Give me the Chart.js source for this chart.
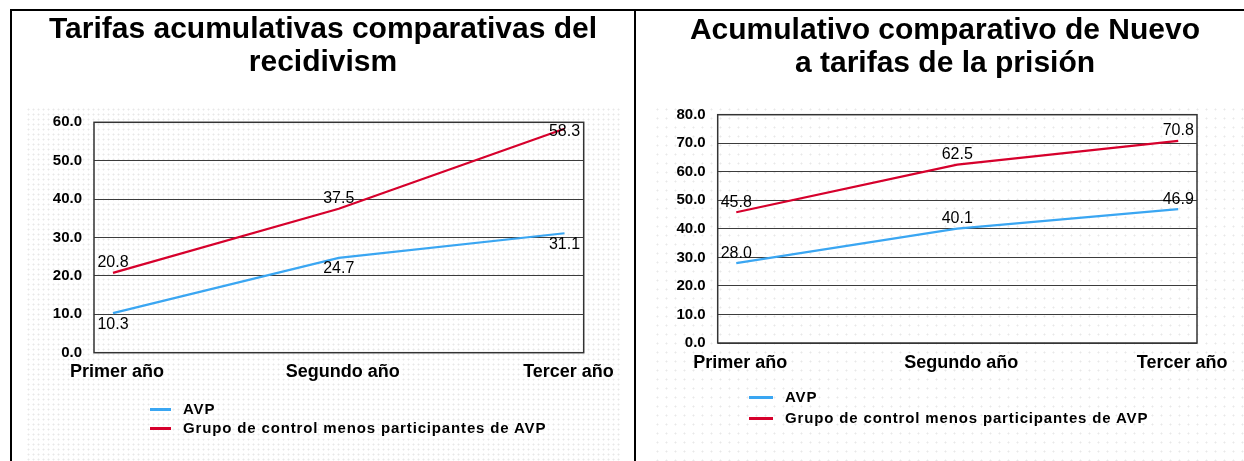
<!DOCTYPE html>
<html>
<head>
<meta charset="utf-8">
<script src="https://cdn.jsdelivr.net/npm/chart.js@4.4.1/dist/chart.umd.min.js"></script>
<style>
  body { margin: 0; width: 1244px; height: 461px; overflow: hidden; background: #fff; position: relative;
         font-family: "Liberation Sans", Arial, sans-serif; }
  .rule { position: absolute; background: #000; }
  .dots { position: absolute; background-image: radial-gradient(circle, #e8e8e8 0.9px, transparent 1.1px); }
  canvas { position: absolute; }
  .legend { position: absolute; font-weight: bold; font-size: 15px; letter-spacing: 0.85px; color: #000; }
  .legend .row { position: absolute; left: 0; height: 18px; line-height: 18px; white-space: nowrap; }
  .legend .swatch { position: absolute; top: 8px; left: 0; height: 3px; }
  .legend .txt { position: absolute; top: 0; }
</style>
</head>
<body>
<div class="dots" style="left:26px;top:107px;width:594px;height:354px;background-size:5px 5px"></div>
<div class="dots" style="left:653px;top:105px;width:591px;height:356px;background-size:9px 9px"></div>

<div class="rule" style="left:10px;top:9px;width:1234px;height:2px"></div>
<div class="rule" style="left:10px;top:9px;width:2px;height:452px"></div>
<div class="rule" style="left:634px;top:9px;width:2px;height:452px"></div>

<canvas id="recid" style="left:12px;top:12px" width="622" height="449"></canvas>
<canvas id="prison" style="left:637px;top:12px" width="607" height="449"></canvas>

<div class="legend" id="legendRecid" style="left:150px;top:400px"></div>
<div class="legend" id="legendPrison" style="left:749px;top:388px"></div>

<script>
// categories and series
const years = ['Primer año', 'Segundo año', 'Tercer año'];
const seriesNames = ['AVP', 'Grupo de control menos participantes de AVP'];

// recidivism chart
const recidTitle = ['Tarifas acumulativas comparativas del', 'recidivism'];
const recidAVP = [10.3, 24.7, 31.1];
const recidControl = [20.8, 37.5, 58.3];
const recidMax = 60;

// prison chart
const prisonTitle = ['Acumulativo comparativo de Nuevo', 'a tarifas de la prisión'];
const prisonAVP = [28.0, 40.1, 46.9];
const prisonControl = [45.8, 62.5, 70.8];
const prisonMax = 80;

const BLUE = '#3aa6f2';
const RED = '#d6002c';
const FONT = '"Liberation Sans", Arial, sans-serif';

const toPoints = vals => vals.map((v, i) => ({ x: i, y: v }));

// frame round the plot area
const plotBorder = {
  id: 'plotBorder',
  beforeDatasetsDraw(chart) {
    const { ctx, chartArea: a } = chart;
    ctx.save();
    ctx.strokeStyle = '#333';
    ctx.lineWidth = 1.5;
    ctx.strokeRect(a.left, a.top, a.right - a.left, a.bottom - a.top);
    ctx.restore();
  }
};

// value next to each point
const valueLabels = {
  id: 'valueLabels',
  afterDatasetsDraw(chart) {
    const { ctx, chartArea } = chart;
    ctx.save();
    ctx.font = '16px ' + FONT;
    ctx.fillStyle = '#000';
    ctx.textAlign = 'center';
    ctx.textBaseline = 'middle';
    chart.data.datasets.forEach((ds, i) => {
      chart.getDatasetMeta(i).data.forEach((pt, j) => {
        let y = ds.labelSide === 'below' ? pt.y + 11 : pt.y - 10;
        y = Math.max(y, chartArea.top + 9);
        ctx.fillText(ds.data[j].y.toFixed(1), pt.x, y);
      });
    });
    ctx.restore();
  }
};

// sizes: left padding, y axis width, spare room right of the plot, title padding
function makeChart(id, title, avp, control, yMax, avpSide, padLeft, yWidth, rightWidth, bottomPad, titlePad) {
  return new Chart(document.getElementById(id), {
    type: 'line',
    data: {
      datasets: [
        { label: seriesNames[0], data: toPoints(avp), borderColor: BLUE, backgroundColor: BLUE,
          borderWidth: 2.2, pointRadius: 0, tension: 0, labelSide: avpSide },
        { label: seriesNames[1], data: toPoints(control), borderColor: RED, backgroundColor: RED,
          borderWidth: 2.2, pointRadius: 0, tension: 0, labelSide: 'above' }
      ]
    },
    options: {
      responsive: false,
      animation: false,
      layout: { padding: { left: padLeft, right: 0, top: 0, bottom: bottomPad } },
      plugins: {
        legend: { display: false },
        tooltip: { enabled: false },
        title: {
          display: true,
          text: title,
          color: '#000',
          font: { family: FONT, size: 30, weight: 'bold', lineHeight: 1.1 },
          padding: titlePad
        }
      },
      scales: {
        x: {
          type: 'linear',
          min: -0.084,
          max: 2.085,
          grid: { display: false, drawTicks: false },
          border: { display: false },
          afterBuildTicks: s => { s.ticks = years.map((_, i) => ({ value: i })); },
          afterFit: s => { s.height = 40; },
          ticks: {
            padding: 9,
            labelOffset: 4,
            color: '#000',
            font: { family: FONT, size: 18, weight: 'bold' },
            callback: v => years[v]
          }
        },
        y: {
          min: 0,
          max: yMax,
          grid: { color: '#3c3c3c', lineWidth: 1, drawTicks: false },
          border: { display: false },
          afterFit: s => { s.width = yWidth; },
          ticks: {
            stepSize: 10,
            padding: 12,
            color: '#000',
            font: { family: FONT, size: 15, weight: 'bold' },
            callback: v => v.toFixed(1)
          }
        },
        spare: {
          type: 'linear',
          position: 'right',
          grid: { display: false, drawTicks: false },
          border: { display: false },
          ticks: { display: false },
          afterFit: s => { s.width = rightWidth; }
        }
      }
    },
    plugins: [plotBorder, valueLabels]
  });
}

function buildLegend(chart, el, swatchW, rowGap) {
  chart.data.datasets.forEach((ds, i) => {
    const row = document.createElement('div');
    row.className = 'row';
    row.style.top = (i * rowGap) + 'px';
    const sw = document.createElement('span');
    sw.className = 'swatch';
    sw.style.width = swatchW + 'px';
    sw.style.background = ds.borderColor;
    const tx = document.createElement('span');
    tx.className = 'txt';
    tx.style.left = (swatchW + 12) + 'px';
    tx.textContent = ds.label;
    row.appendChild(sw);
    row.appendChild(tx);
    el.appendChild(row);
  });
}

const recidChart = makeChart('recid', recidTitle, recidAVP, recidControl, recidMax, 'below',
  0, 82, 50.3, 68.3, { top: 1.5, bottom: 42.8 });
const prisonChart = makeChart('prison', prisonTitle, prisonAVP, prisonControl, prisonMax, 'above',
  9, 71.7, 47, 78, { top: 2.2, bottom: 34.5 });

buildLegend(recidChart, document.getElementById('legendRecid'), 21, 19);
buildLegend(prisonChart, document.getElementById('legendPrison'), 24, 21);
</script>
</body>
</html>
